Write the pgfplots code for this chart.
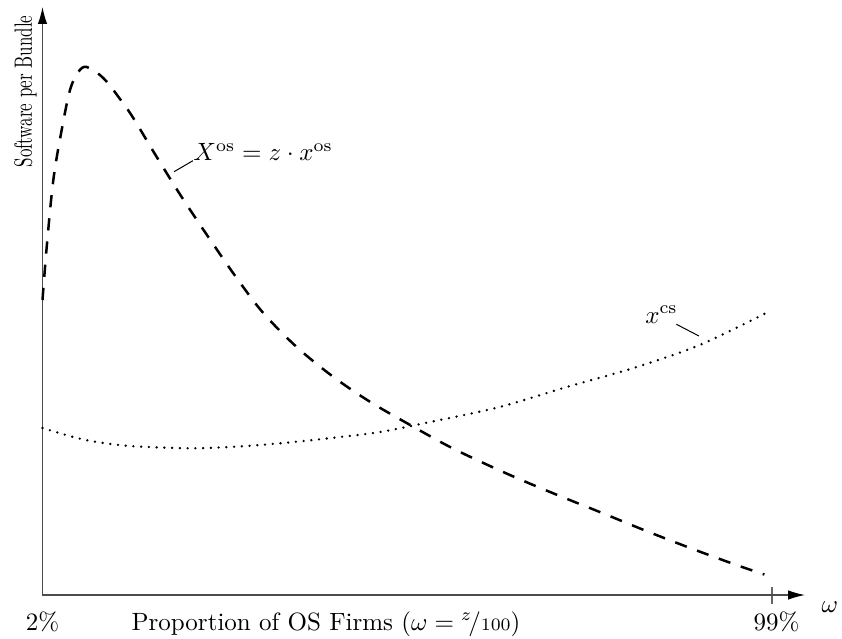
\documentclass[border=0pt]{standalone}
\usepackage{pgfplots}
\pgfplotsset{compat=1.18}
\usetikzlibrary{arrows.meta}

% Software supplied per bundle: open-source total vs. closed-source
\pgfplotstableread{
x     y
2     295
2.56  348
3.44  415
4.55  465
5.66  505
6.76  523
7.88  528
10.08 517
12.31 496
14.07 477
17.19 438
20.51 398
24.05 358
27.82 317
31.36 282
35.8  248
40.7  218
45.6  193
50.9  170
56.2  148
61.5  129
66.0  114
70.8  99
76.6  81.5
82.3  64
88.3  46.5
94.1  30.5
98.0  20.5
}\osdata

\pgfplotstableread{
x     y
2     167
6.1   158
9.2   153
13.6  149
19.8  147
23.8  147
29.2  149
35.4  153
41.6  158
46.9  163
52.9  172
62.8  188
71.7  208
80.6  227
89.4  250
98.5  283
}\csdata

\begin{document}
\fontsize{10}{12}\selectfont
\begin{tikzpicture}
\useasboundingbox (-17pt,-17.2pt) rectangle (319.8pt,238pt);
\begin{axis}[
  scale only axis,
  width=305pt, height=235.2pt,
  xmin=2, xmax=103.4, ymin=0, ymax=588,
  axis lines=left,
  axis line style={draw=black!70, line width=0.5pt},
  x axis line style={-{Latex[length=6.8pt,width=3.8pt,black]}},
  y axis line style={-{Latex[length=6.8pt,width=3.8pt,black]}},
  xtick={99}, xticklabels={},
  ytick=\empty,
  tick align=center,
  major tick length=6.8pt,
  tick style={draw=black!60, line width=0.5pt},
  clip=false,
]
\addplot[black, line width=1pt, dash pattern=on 4.9pt off 4.4pt, smooth, tension=0.55]
  table[x=x, y=y] {\osdata};
\addplot[black, line width=1.05pt, line cap=round, dash pattern=on 0pt off 3.1pt, smooth, tension=0.5]
  table[x=x, y=y] {\csdata};

% curve labels with leader lines
\draw[black, line width=0.4pt] (axis cs:19.5,423.3) -- (axis cs:22.0,434.3);
\node[anchor=base west, inner sep=0pt] at (axis cs:22.0,434)
  {$X^{\mathrm{os}} = z\cdot x^{\mathrm{os}}$};
\draw[black, line width=0.4pt] (axis cs:86.3,270.7) -- (axis cs:89.3,259);
\node[anchor=base west, inner sep=0pt] at (axis cs:82.1,272) {$x^{\mathrm{cs}}$};

% axis labels and end-point tick labels
\node[anchor=base, inner sep=0pt] at (axis cs:2,-35) {2\%};
\node[anchor=base, inner sep=0pt] at (axis cs:99.6,-35) {99\%};
\node[anchor=base, inner sep=0pt] at (axis cs:39.7,-35)
  {Proportion of OS Firms ($\omega = {}^{z}\!/{\scriptstyle 100}$)};
\node[anchor=base, inner sep=0pt] at (axis cs:106.7,-17) {$\omega$};
\node[rotate=90, anchor=base east, inner sep=0pt] at (axis cs:0.6,580)
  {\scalebox{0.68}[1]{Software per Bundle}};
\end{axis}
\end{tikzpicture}
\end{document}
